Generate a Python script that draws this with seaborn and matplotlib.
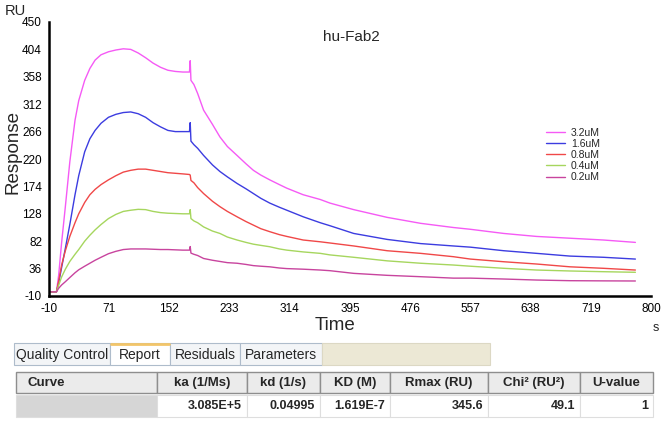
import matplotlib.pyplot as plt
from matplotlib.patches import Rectangle
from matplotlib.ticker import FixedLocator
import pandas as pd
import seaborn as sns

# sensorgram (time in s, response in RU)
time_s = [-10, 0, 3, 7, 12, 18, 25, 30, 38, 45,
          52, 60, 70, 80, 90, 100, 110, 120, 130, 140,
          150, 160, 170, 179, 180, 181, 185, 190, 198, 210,
          220, 230, 243, 255, 265, 275, 287, 300, 310, 332,
          355, 368, 400, 445, 490, 534, 557, 602, 646, 691,
          736, 779]
resp_32 = [-3, -3, 25, 80, 140, 215, 285, 318, 352, 372,
           386, 395, 400, 403, 405, 404, 398, 390, 381, 374,
           369, 367, 366, 366, 385, 352, 345, 330, 302, 278,
           257, 241, 226, 212, 201, 193, 185, 177, 171, 160,
           152, 146, 135, 122, 112, 105, 102, 95, 90, 87,
           84, 80]
resp_16 = [-3, -3, 12, 38, 70, 110, 160, 192, 232, 254,
           268, 280, 290, 295, 298, 299, 296, 290, 281, 274,
           268, 266, 266, 266, 281, 250, 244, 238, 226, 210,
           199, 190, 179, 170, 162, 154, 146, 139, 134, 123,
           113, 108, 95, 85, 78, 74, 72, 66, 61.6, 57,
           55, 52]
resp_08 = [-3, -3, 15, 42, 66, 90, 113, 128, 147, 160,
           169, 177, 185, 192, 198, 201, 203, 203, 201, 199,
           197, 196, 195, 194, 193, 184, 180, 172, 162, 149,
           140, 132, 123, 115, 109, 103, 98, 93, 90, 84,
           81, 79, 74, 66, 61.6, 56, 52, 47.5, 43.7, 39,
           36.5, 33.6]
resp_04 = [-3, -3, 8, 22, 35, 48, 60, 68, 82, 92,
           101, 110, 120, 127, 132, 134, 135.5, 135, 132, 130,
           129, 128.5, 128, 128, 135, 120, 116, 113, 106, 99,
           95, 89, 84, 80, 77, 75, 72.7, 69, 67, 64,
           61.6, 59, 55, 49, 45, 42, 40, 36.5, 33.6, 32,
           30.8, 29.8]
resp_02 = [-3, -3, 3, 8.5, 14, 21, 29, 34, 40, 45,
           50, 55, 61, 65, 68, 69, 69, 69, 68.5, 68,
           68, 67.5, 67, 67, 73, 62, 60, 58, 53, 50,
           48, 46, 45, 43, 41, 40, 39, 37, 36, 35,
           33.6, 32.5, 28, 24.7, 22.4, 20, 20, 18.5, 16.8, 15.7,
           15.4, 15.2]

conc_labels = ['3.2uM', '1.6uM', '0.8uM', '0.4uM', '0.2uM']
line_colors = ['#f55af5', '#3c3ce0', '#f04848', '#a6d65e', '#c8449e']

x_ticks = [-10, 71, 152, 233, 314, 395, 476, 557, 638, 719, 800]
y_ticks = [-10, 36, 82, 128, 174, 220, 266, 312, 358, 404, 450]

tab_labels = ['Quality Control', 'Report', 'Residuals', 'Parameters']
table_headers = ['Curve', 'ka (1/Ms)', 'kd (1/s)', 'KD (M)', 'Rmax (RU)', 'Chi² (RU²)', 'U-value']
table_values = ['', '3.085E+5', '0.04995', '1.619E-7', '345.6', '49.1', '1']

series = [resp_32, resp_16, resp_08, resp_04, resp_02]
df = pd.concat([pd.DataFrame({'Time': time_s, 'Response': r, 'conc': c})
                for r, c in zip(series, conc_labels)], ignore_index=True)

sns.set_style('white')
plt.rcParams['font.family'] = ['Liberation Sans', 'DejaVu Sans']
plt.rcParams['axes.unicode_minus'] = False

W, H = 666, 426
fig = plt.figure(figsize=(W / 100, H / 100), dpi=100)

# table / tabs layer in pixel coords
tab = fig.add_axes([0, 0, 1, 1])
tab.set_xlim(0, W)
tab.set_ylim(H, 0)
tab.axis('off')

ax = fig.add_axes([49 / W, 1 - 296 / H, 602 / W, 274 / H])
sns.lineplot(data=df, x='Time', y='Response', hue='conc', hue_order=conc_labels,
             palette=dict(zip(conc_labels, line_colors)), estimator=None,
             sort=False, lw=1.0, ax=ax)
ax.set_xlim(-10, 800)
ax.set_ylim(-10, 450)
ax.set_xticks(x_ticks)
ax.set_yticks(y_ticks)
ax.xaxis.set_minor_locator(FixedLocator([(a + b) / 2 for a, b in zip(x_ticks, x_ticks[1:])]))
ax.yaxis.set_minor_locator(FixedLocator([(a + b) / 2 for a, b in zip(y_ticks, y_ticks[1:])]))
ax.tick_params(which='both', direction='inout', length=6, width=1.5, colors='black',
               labelsize=8.5, pad=2)
for s in ['top', 'right']:
    ax.spines[s].set_visible(False)
for s in ['left', 'bottom']:
    ax.spines[s].set_linewidth(1.8)
    ax.spines[s].set_color('black')
ax.set_xlabel('')
ax.set_ylabel('')
ax.patch.set_alpha(0)

sns.move_legend(ax, 'upper left', bbox_to_anchor=(546 / W, 1 - 128 / H),
                bbox_transform=fig.transFigure, title=None, frameon=False,
                fontsize=7.5, handlelength=1.8, handletextpad=0.6,
                labelspacing=0.1, borderpad=0, borderaxespad=0)

fig.text(5 / W, 1 - 11 / H, 'RU', fontsize=10.5, va='center', ha='left')
fig.text(13 / W, 1 - 152 / H, 'Response', fontsize=13.5, rotation=90, va='center', ha='center')
fig.text(335 / W, 1 - 326 / H, 'Time', fontsize=13.5, va='center', ha='center')
fig.text(656 / W, 1 - 328 / H, 's', fontsize=9, va='center', ha='center')
fig.text(351 / W, 1 - 37 / H, 'hu-Fab2', fontsize=11, va='center', ha='center')

# tabs
tab_edges = [14, 110, 170, 240, 322]
for i, lab in enumerate(tab_labels):
    x0, x1 = tab_edges[i], tab_edges[i + 1]
    sel = lab == 'Report'
    tab.add_patch(Rectangle((x0, 343), x1 - x0, 22, facecolor='white' if sel else '#f3f5f7',
                            edgecolor='#aebccb', lw=0.8))
    if sel:
        tab.plot([x0 + 1, x1 - 1], [343.5, 343.5], color='#f2c56a', lw=2)
    tab.text((x0 + x1) / 2, 355, lab, fontsize=10, ha='center', va='center')
tab.add_patch(Rectangle((322, 343), 168, 22, facecolor='#ece8d5', edgecolor='#dcd8c4', lw=0.8))

# results table
col_edges = [16, 157, 247, 320, 390, 488, 580, 653]
for i, head in enumerate(table_headers):
    x0, x1 = col_edges[i], col_edges[i + 1]
    tab.add_patch(Rectangle((x0, 372), x1 - x0, 21, facecolor='#ebebeb',
                            edgecolor='#8e8e8e', lw=1))
    if i == 0:
        tab.text(x0 + 12, 383, head, fontsize=9.5, fontweight='bold', ha='left', va='center')
    else:
        tab.text((x0 + x1) / 2, 383, head, fontsize=9.5, fontweight='bold',
                 ha='center', va='center')
    face = '#d6d6d6' if i == 0 else 'white'
    tab.add_patch(Rectangle((x0, 395), x1 - x0, 22, facecolor=face,
                            edgecolor='#dedede', lw=0.8))
    if table_values[i]:
        tab.text(x1 - 5, 406, table_values[i], fontsize=9, fontweight='bold',
                 ha='right', va='center')

fig.savefig('out.png', dpi=100)
